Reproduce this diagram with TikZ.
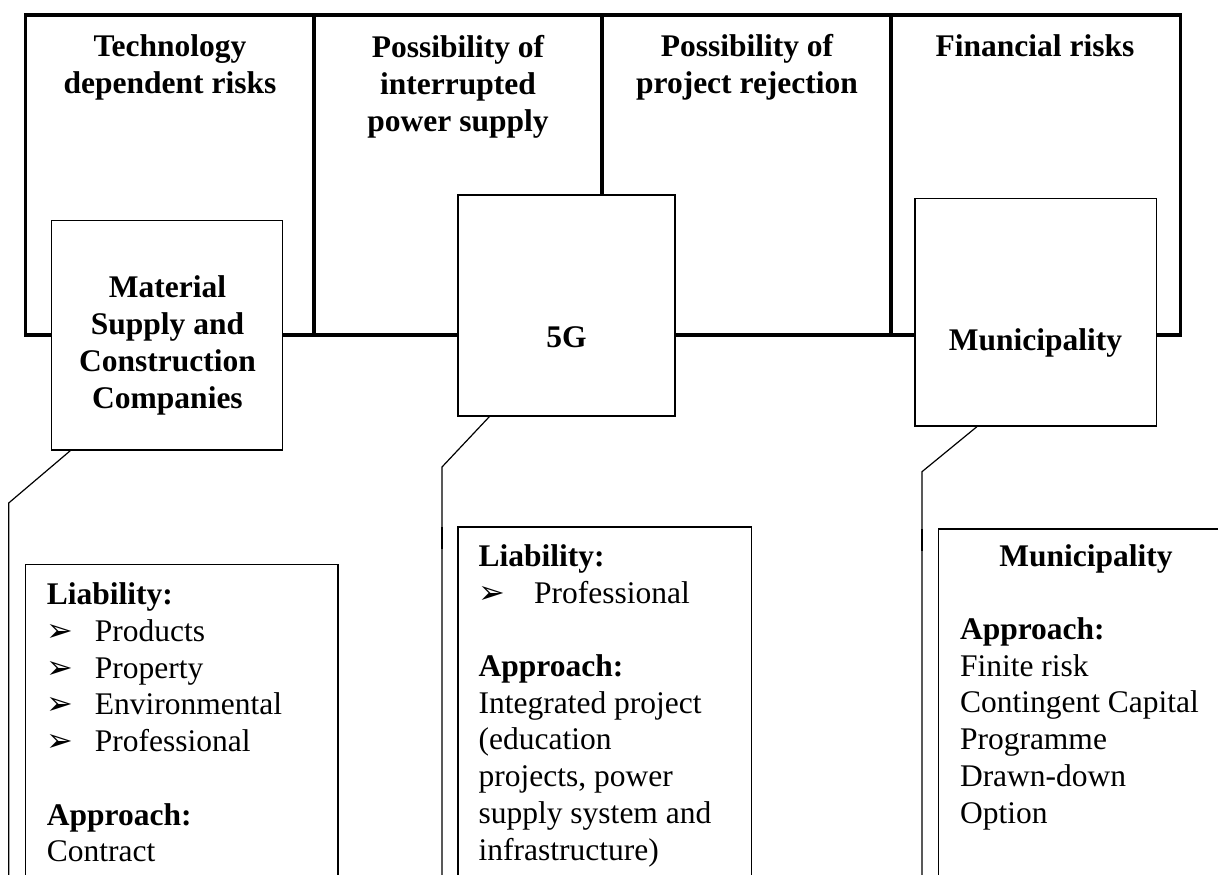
\documentclass[tikz,border=0pt]{standalone}
\usepackage{fontspec}
\setmainfont{Liberation Serif}
\newfontfamily\symfont{DejaVu Sans}
\usetikzlibrary{calc}
\newcommand{\rbul}[1][48pt]{\makebox[#1][l]{\symfont\fontsize{32}{32}\selectfont ➢}}
\begin{document}
\begin{tikzpicture}[x=1pt,y=-1pt,
  cell/.style={draw, line width=3.5pt, inner sep=0pt, minimum width=#1, minimum height=320pt},
  actor/.style={draw, fill=white, line width=1.3pt, inner sep=0pt},
  detail/.style={draw, fill=white, line width=1.3pt, inner sep=0pt},
  title/.style={font=\fontsize{31.5}{36.7}\selectfont\bfseries, align=center, inner sep=0pt},
  body/.style={font=\fontsize{31.5}{36.7}\selectfont, align=left, inner sep=0pt},
  link/.style={line width=1.2pt},
  knot/.style={line width=2.8pt}]
\useasboundingbox (0,0) rectangle (1218,875);
\clip (0,0) rectangle (1218,875);
\fill[white] (0,0) rectangle (1218,875);

% top frame cells
\node[cell=288.3pt] (c1) at (169.85,175) {};
\node[cell=288pt]   (c2) at (458,175) {};
\node[cell=289pt]   (c3) at (746.5,175) {};
\node[cell=289.5pt] (c4) at (1035.75,175) {};

% titles (anchored at the baseline of their last line)
\node[title, anchor=base] (t1) at (170,93.7) {Technology\\dependent risks};
\node[title, anchor=base] (t2) at (458,131) {Possibility of\\interrupted\\power supply};
\node[title, anchor=base] (t3) at (747,93.7) {Possibility of\\project rejection};
\node[title, anchor=base] (t4) at (1035,57) {Financial risks};

% actor boxes
\node[actor, minimum width=231.3pt, minimum height=229.3pt] (mat) at (167.05,335.35) {};
\node[actor, minimum width=217pt, minimum height=221pt] (fg) at (566.5,305.5) {};
\node[actor, minimum width=241.7pt, minimum height=227.3pt] (mun) at (1035.85,312.35) {};

\node[title, anchor=base] (matt) at (167.5,408) {Material\\Supply and\\Construction\\Companies};
\node[title, anchor=base] (fgt) at (566.5,347) {5G};
\node[title, anchor=base] (munt) at (1035.5,350) {Municipality};

% detail boxes (open at the bottom of the page)
\node[detail, minimum width=312.3pt, minimum height=385.7pt] (d1) at (181.85,757.15) {};
\node[detail, minimum width=293.4pt, minimum height=423pt] (d2) at (604.7,738.5) {};
\node[detail, minimum width=321.5pt, minimum height=421pt] (d3) at (1099.25,739.5) {};

\node[body, anchor=base west] (d1t) at (46.7,861.7) {\textbf{Liability:}\\
  \rbul Products\\ \rbul Property\\ \rbul Environmental\\ \rbul Professional\\[36.7pt]
  \textbf{Approach:}\\ Contract};
\node[body, anchor=base west] (d2t) at (478.4,860) {\textbf{Liability:}\\
  \rbul[47.6pt] Professional\\[36.7pt]
  \textbf{Approach:}\\ Integrated project\\ (education\\ projects, power\\ supply system and\\ infrastructure)};
\node[title, anchor=base] (d3h) at (1086,566.7) {Municipality};
\node[body, anchor=base west] (d3t) at (959.8,823) {\textbf{Approach:}\\
  Finite risk\\ Contingent Capital\\ Programme\\ Drawn-down\\ Option};

% connectors
\coordinate (k1) at (8.7,503);   \coordinate (e1) at (8.7,890);
\coordinate (k2) at (442,467);   \coordinate (e2) at (442,890);
\coordinate (k3) at (922,471.7); \coordinate (e3) at (922,890);
\coordinate (s2a) at (442,527);  \coordinate (s2b) at (442,549);
\coordinate (s3a) at (922,529);  \coordinate (s3b) at (922,551);

\draw[link] ($(mat.south west)+(19.6,0)$) -- (k1) -- (e1);
\draw[link] ($(fg.south west)+(32,0)$) -- (k2) -- (e2);
\draw[link] ($(mun.south west)+(62.6,0)$) -- (k3) -- (e3);
\draw[knot] (s2a) -- (s2b);
\draw[knot] (s3a) -- (s3b);
\end{tikzpicture}
\end{document}
